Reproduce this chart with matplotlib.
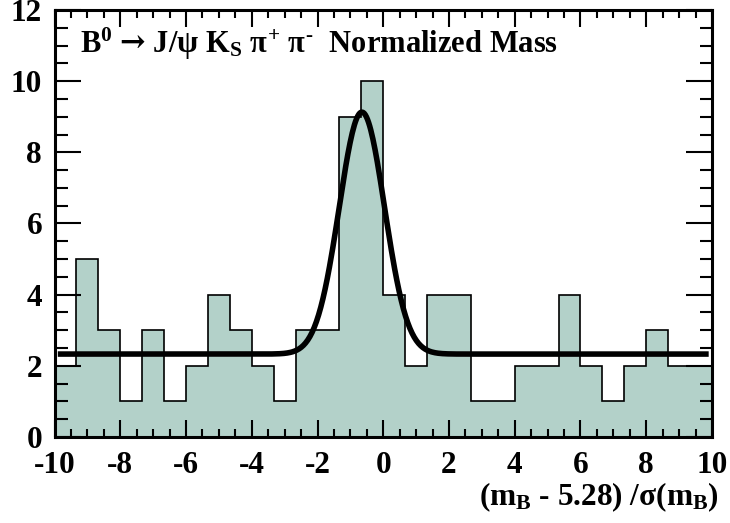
import numpy as np
import matplotlib
matplotlib.use("Agg")
import matplotlib.pyplot as plt
from matplotlib.ticker import MultipleLocator

# ---- data ----
x_min, x_max = -10.0, 10.0
counts = [2, 5, 3, 1, 3, 1, 2, 4, 3, 2, 1, 3, 3, 9, 10,
          4, 2, 4, 4, 1, 1, 2, 2, 4, 2, 1, 2, 3, 2, 2]
# fit: constant background + gaussian
fit_background = 2.33
fit_amplitude = 6.8
fit_mean = -0.65
fit_sigma = 0.69
xticks = [-10, -8, -6, -4, -2, 0, 2, 4, 6, 8, 10]
yticks = [0, 2, 4, 6, 8, 10, 12]

title_text = (r'B$^{0}$ $\mathsf{→}$ J/$\mathit{ψ}$ K$_{S}$ '
              r'$\mathit{π}^{+}$ $\mathit{π}^{\text{-}}$  Normalized Mass')
xlabel_text = r'(m$_{B}$ - 5.28) /$\mathit{σ}$(m$_{B}$)'

plt.rcParams['font.family'] = ['Liberation Serif', 'DejaVu Serif']
plt.rcParams['font.weight'] = 'bold'
plt.rcParams['mathtext.fontset'] = 'custom'
plt.rcParams['mathtext.rm'] = 'Liberation Serif:bold'
plt.rcParams['mathtext.it'] = 'Liberation Serif'
plt.rcParams['mathtext.bf'] = 'Liberation Serif:bold'
plt.rcParams['mathtext.sf'] = 'DejaVu Serif'
plt.rcParams['mathtext.default'] = 'rm'
plt.rcParams['axes.unicode_minus'] = False

fig = plt.figure(figsize=(7.3, 5.23), dpi=100)
ax = fig.add_axes([0.0747, 0.1645, 0.9753 - 0.0747, 0.9809 - 0.1645])

edges = np.linspace(x_min, x_max, len(counts) + 1)
ax.stairs(counts, edges, fill=True, color='#b3d1c9', linewidth=0)
ax.stairs(counts, edges, fill=False, color='black', linewidth=1.2, baseline=None)

xf = np.linspace(-9.9, 9.9, 600)
yf = fit_background + fit_amplitude * np.exp(-0.5 * ((xf - fit_mean) / fit_sigma) ** 2)
ax.plot(xf, yf, color='black', linewidth=4.0, solid_capstyle='butt')

ax.set_xlim(x_min, x_max)
ax.set_ylim(0, 12)
ax.set_xticks(xticks)
ax.set_yticks(yticks)
ax.xaxis.set_minor_locator(MultipleLocator(0.5))
ax.yaxis.set_minor_locator(MultipleLocator(0.5))
ax.tick_params(axis='both', which='both', direction='in', top=True, right=True,
               width=1.5, labelsize=22.5)
ax.tick_params(axis='x', which='major', length=12, pad=10)
ax.tick_params(axis='x', which='minor', length=6)
ax.tick_params(axis='y', which='major', length=19, pad=9)
ax.tick_params(axis='y', which='minor', length=9)
for lab in ax.get_xticklabels() + ax.get_yticklabels():
    lab.set_fontweight('bold')
for s in ax.spines.values():
    s.set_linewidth(2.2)

fig.text(80 / 730, 1 - 53 / 523, title_text,
         fontsize=22, fontweight='bold', ha='left', va='baseline')
fig.text(719 / 730, 1 - 505 / 523, xlabel_text, fontsize=22.5, fontweight='bold',
         ha='right', va='baseline')

fig.savefig('out.png', dpi=100)
